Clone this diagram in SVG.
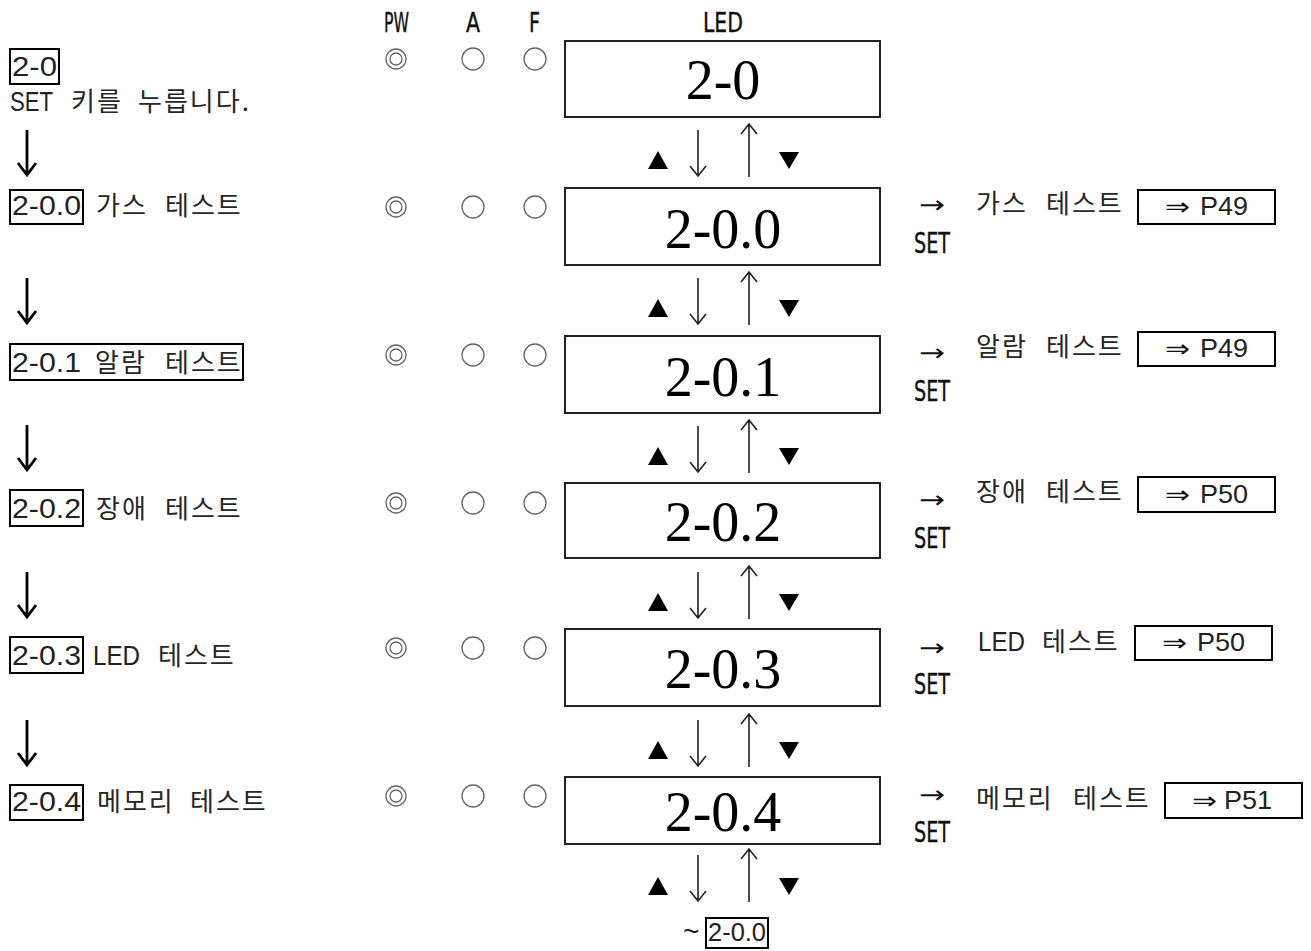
<svg xmlns="http://www.w3.org/2000/svg" width="1311" height="951" viewBox="0 0 1311 951">
<style>
.bg{fill:#fff}
.ko{font-family:"Noto Sans CJK KR","Liberation Sans",sans-serif;font-size:26px;letter-spacing:2px;fill:#262626}
.hd{font-family:"DejaVu Sans Condensed","Liberation Sans",sans-serif;font-size:27px;fill:#111;stroke:#111;stroke-width:0.4}
.set{font-family:"DejaVu Sans Condensed","Liberation Sans",sans-serif;font-size:29px;fill:#111;stroke:#111;stroke-width:0.4}
.led{font-family:"Liberation Serif","DejaVu Serif",serif;font-size:56px;fill:#000;text-anchor:middle}
.lat{font-family:"Liberation Sans","DejaVu Sans",sans-serif;font-size:27px;letter-spacing:0;fill:#222}
.ref{font-family:"Liberation Sans","DejaVu Sans",sans-serif;font-size:25px;fill:#222}
.sym{font-family:"DejaVu Sans","Liberation Sans",sans-serif;font-size:24px;fill:#111}
.box{fill:none;stroke:#000;stroke-width:2}
.ledbox{fill:#fff;stroke:#222;stroke-width:2}
.c{fill:none;stroke:#666;stroke-width:1.3}
.thin{fill:none;stroke:#222;stroke-width:1.6}
.thick{fill:none;stroke:#000;stroke-width:2.8}
.tri{fill:#000}
</style>
<rect class="bg" x="0" y="0" width="1311" height="951"/>

<g id="header">
<text class="hd" x="384" y="32" textLength="25" lengthAdjust="spacingAndGlyphs">PW</text>
<text class="hd" x="466" y="32" textLength="14" lengthAdjust="spacingAndGlyphs">A</text>
<text class="hd" x="529" y="32" textLength="11" lengthAdjust="spacingAndGlyphs">F</text>
<text class="hd" x="703" y="32" textLength="40" lengthAdjust="spacingAndGlyphs">LED</text>
</g>

<g id="leds">
<g id="led0"><circle class="c" cx="396" cy="59" r="10"/><circle class="c" cx="396" cy="59" r="6"/><circle class="c" cx="473" cy="59" r="11"/><circle class="c" cx="535" cy="59" r="11"/></g>
<g id="led1"><circle class="c" cx="396" cy="207" r="10"/><circle class="c" cx="396" cy="207" r="6"/><circle class="c" cx="473" cy="207" r="11"/><circle class="c" cx="535" cy="207" r="11"/></g>
<g id="led2"><circle class="c" cx="396" cy="355" r="10"/><circle class="c" cx="396" cy="355" r="6"/><circle class="c" cx="473" cy="355" r="11"/><circle class="c" cx="535" cy="355" r="11"/></g>
<g id="led3"><circle class="c" cx="396" cy="503" r="10"/><circle class="c" cx="396" cy="503" r="6"/><circle class="c" cx="473" cy="503" r="11"/><circle class="c" cx="535" cy="503" r="11"/></g>
<g id="led4"><circle class="c" cx="396" cy="648" r="10"/><circle class="c" cx="396" cy="648" r="6"/><circle class="c" cx="473" cy="648" r="11"/><circle class="c" cx="535" cy="648" r="11"/></g>
<g id="led5"><circle class="c" cx="396" cy="796" r="10"/><circle class="c" cx="396" cy="796" r="6"/><circle class="c" cx="473" cy="796" r="11"/><circle class="c" cx="535" cy="796" r="11"/></g>
</g>

<g id="display0"><rect class="ledbox" x="565" y="41" width="315" height="76"/><text class="led" x="723" y="99">2-0</text></g>
<g id="display1"><rect class="ledbox" x="565" y="188" width="315" height="77"/><text class="led" x="723" y="248">2-0.0</text></g>
<g id="display2"><rect class="ledbox" x="565" y="336" width="315" height="77"/><text class="led" x="723" y="396">2-0.1</text></g>
<g id="display3"><rect class="ledbox" x="565" y="483" width="315" height="75"/><text class="led" x="723" y="541">2-0.2</text></g>
<g id="display4"><rect class="ledbox" x="565" y="629" width="315" height="77"/><text class="led" x="723" y="688">2-0.3</text></g>
<g id="display5"><rect class="ledbox" x="565" y="777" width="315" height="67"/><text class="led" x="723" y="831">2-0.4</text></g>

<g id="left0">
<rect class="box" x="10" y="49" width="49" height="35"/>
<text class="lat" x="12" y="76" textLength="45" lengthAdjust="spacingAndGlyphs">2-0</text>
<text class="ko" y="111"><tspan class="lat" x="10" textLength="43" lengthAdjust="spacingAndGlyphs">SET</tspan><tspan x="71">키를</tspan><tspan x="138">누릅니다.</tspan></text>
</g>
<g id="left1">
<rect class="box" x="10" y="190" width="73" height="34"/>
<text class="lat" x="12" y="215" textLength="69" lengthAdjust="spacingAndGlyphs">2-0.0</text>
<text class="ko" y="215"><tspan x="96">가스</tspan><tspan x="165">테스트</tspan></text>
</g>
<g id="left2">
<rect class="box" x="10" y="344" width="233" height="36"/>
<text class="lat" x="12" y="372" textLength="69" lengthAdjust="spacingAndGlyphs">2-0.1</text>
<text class="ko" y="372"><tspan x="95">알람</tspan><tspan x="165">테스트</tspan></text>
</g>
<g id="left3">
<rect class="box" x="10" y="490" width="73" height="36"/>
<text class="lat" x="12" y="518" textLength="69" lengthAdjust="spacingAndGlyphs">2-0.2</text>
<text class="ko" y="518"><tspan x="96">장애</tspan><tspan x="165">테스트</tspan></text>
</g>
<g id="left4">
<rect class="box" x="10" y="637" width="73" height="36"/>
<text class="lat" x="12" y="665" textLength="69" lengthAdjust="spacingAndGlyphs">2-0.3</text>
<text class="ko" y="665"><tspan class="lat" x="93" textLength="47" lengthAdjust="spacingAndGlyphs">LED</tspan><tspan x="158">테스트</tspan></text>
</g>
<g id="left5">
<rect class="box" x="10" y="785" width="73" height="35"/>
<text class="lat" x="12" y="811" textLength="69" lengthAdjust="spacingAndGlyphs">2-0.4</text>
<text class="ko" y="811"><tspan x="97">메모리</tspan><tspan x="190">테스트</tspan></text>
</g>

<g id="right1">
<text class="sym" x="919" y="213" textLength="26" lengthAdjust="spacingAndGlyphs">→</text>
<text class="set" x="914" y="253" textLength="36" lengthAdjust="spacingAndGlyphs">SET</text>
<text class="ko" y="213"><tspan x="976">가스</tspan><tspan x="1046">테스트</tspan></text>
<rect class="box" x="1138" y="190" width="137" height="34"/>
<text class="ref" y="215"><tspan class="sym" x="1165" textLength="25" lengthAdjust="spacingAndGlyphs">⇒</tspan><tspan x="1200" textLength="48" lengthAdjust="spacingAndGlyphs">P49</tspan></text>
</g>
<g id="right2">
<text class="sym" x="919" y="361" textLength="26" lengthAdjust="spacingAndGlyphs">→</text>
<text class="set" x="914" y="401" textLength="36" lengthAdjust="spacingAndGlyphs">SET</text>
<text class="ko" y="356"><tspan x="976">알람</tspan><tspan x="1046">테스트</tspan></text>
<rect class="box" x="1138" y="332" width="137" height="34"/>
<text class="ref" y="357"><tspan class="sym" x="1165" textLength="25" lengthAdjust="spacingAndGlyphs">⇒</tspan><tspan x="1200" textLength="48" lengthAdjust="spacingAndGlyphs">P49</tspan></text>
</g>
<g id="right3">
<text class="sym" x="919" y="508" textLength="26" lengthAdjust="spacingAndGlyphs">→</text>
<text class="set" x="914" y="548" textLength="36" lengthAdjust="spacingAndGlyphs">SET</text>
<text class="ko" y="501"><tspan x="976">장애</tspan><tspan x="1046">테스트</tspan></text>
<rect class="box" x="1138" y="477" width="137" height="35"/>
<text class="ref" y="503"><tspan class="sym" x="1165" textLength="25" lengthAdjust="spacingAndGlyphs">⇒</tspan><tspan x="1200" textLength="48" lengthAdjust="spacingAndGlyphs">P50</tspan></text>
</g>
<g id="right4">
<text class="sym" x="919" y="656" textLength="26" lengthAdjust="spacingAndGlyphs">→</text>
<text class="set" x="914" y="694" textLength="36" lengthAdjust="spacingAndGlyphs">SET</text>
<text class="ko" y="651"><tspan class="lat" x="978" textLength="47" lengthAdjust="spacingAndGlyphs">LED</tspan><tspan x="1042">테스트</tspan></text>
<rect class="box" x="1135" y="626" width="137" height="34"/>
<text class="ref" y="651"><tspan class="sym" x="1162" textLength="25" lengthAdjust="spacingAndGlyphs">⇒</tspan><tspan x="1197" textLength="48" lengthAdjust="spacingAndGlyphs">P50</tspan></text>
</g>
<g id="right5">
<text class="sym" x="919" y="803" textLength="26" lengthAdjust="spacingAndGlyphs">→</text>
<text class="set" x="914" y="842" textLength="36" lengthAdjust="spacingAndGlyphs">SET</text>
<text class="ko" y="808"><tspan x="976">메모리</tspan><tspan x="1073">테스트</tspan></text>
<rect class="box" x="1165" y="783" width="137" height="35"/>
<text class="ref" y="809"><tspan class="sym" x="1192" textLength="25" lengthAdjust="spacingAndGlyphs">⇒</tspan><tspan x="1224" textLength="48" lengthAdjust="spacingAndGlyphs">P51</tspan></text>
</g>

<g id="bottom">
<text class="ref" x="683" y="941" style="font-size:28px">~</text>
<rect class="box" x="706" y="918" width="62" height="30"/>
<text class="ref" x="708" y="941" textLength="58" lengthAdjust="spacingAndGlyphs">2-0.0</text>
</g>

<g id="connectors">
<g id="left-arrows">
<path class="thick" d="M27 130V174M18 163L27 175L36 163"/>
<path class="thick" d="M27 278V322M18 311L27 323L36 311"/>
<path class="thick" d="M27 425V469M18 458L27 470L36 458"/>
<path class="thick" d="M27 572V616M18 605L27 617L36 605"/>
<path class="thick" d="M27 720V764M18 753L27 765L36 753"/>
</g>
<g id="updown">
<path class="tri" d="M658 151L668 169H648Z"/><path class="thin" d="M698 130V176M690 166L698 176L706 166"/><path class="thin" d="M749 124V177M741 134L749 124L757 134"/><path class="tri" d="M779 152H799L789 169Z"/>
<path class="tri" d="M658 299L668 317H648Z"/><path class="thin" d="M698 278V324M690 314L698 324L706 314"/><path class="thin" d="M749 272V325M741 282L749 272L757 282"/><path class="tri" d="M779 300H799L789 317Z"/>
<path class="tri" d="M658 447L668 465H648Z"/><path class="thin" d="M698 426V472M690 462L698 472L706 462"/><path class="thin" d="M749 420V473M741 430L749 420L757 430"/><path class="tri" d="M779 448H799L789 465Z"/>
<path class="tri" d="M658 593L668 611H648Z"/><path class="thin" d="M698 572V618M690 608L698 618L706 608"/><path class="thin" d="M749 566V619M741 576L749 566L757 576"/><path class="tri" d="M779 594H799L789 611Z"/>
<path class="tri" d="M658 741L668 759H648Z"/><path class="thin" d="M698 720V766M690 756L698 766L706 756"/><path class="thin" d="M749 714V767M741 724L749 714L757 724"/><path class="tri" d="M779 742H799L789 759Z"/>
<path class="tri" d="M658 877L668 895H648Z"/><path class="thin" d="M698 855V901M690 891L698 901L706 891"/><path class="thin" d="M749 849V902M741 859L749 849L757 859"/><path class="tri" d="M779 878H799L789 895Z"/>
</g>
</g>
</svg>
